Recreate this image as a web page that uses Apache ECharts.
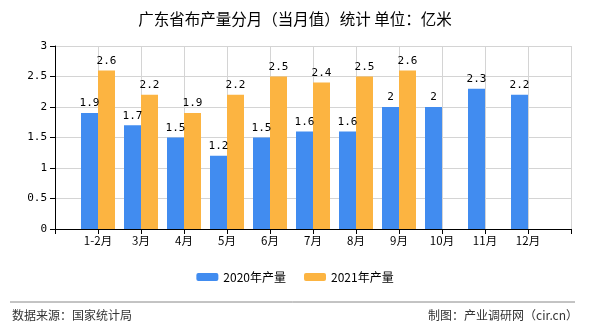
<!DOCTYPE html>
<html><head><meta charset="utf-8">
<script src="https://cdn.jsdelivr.net/npm/echarts@6/dist/echarts.min.js"></script>
<style>html,body{margin:0;padding:0;background:#fff}#c{width:590px;height:330px}</style>
</head><body><div id="c"></div>
<script>
var categories = ['1-2月','3月','4月','5月','6月','7月','8月','9月','10月','11月','12月'];
var values2020 = [1.9,1.7,1.5,1.2,1.5,1.6,1.6,2,2,2.3,2.2];
var values2021 = [2.6,2.2,1.9,2.2,2.5,2.4,2.5,2.6,null,null,null];
var yTicks = ['0','0.5','1','1.5','2','2.5','3'];
var seriesNames = ['2020年产量','2021年产量'];

var cats = [''].concat(categories).concat(['']);
function pad(a){ return [null].concat(a).concat([null]); }
var monoFont = '"DejaVu Sans Mono", monospace';
var chart = echarts.init(document.getElementById('c'));
var labelCfg = {show:true, position:'top', color:'#000', fontSize:11, fontFamily:monoFont, distance:4,
  formatter:function(p){return p.value==null?'':String(p.value);}};
chart.setOption({
  animation:false,
  title:{text:'广东省布产量分月（当月值）统计 单位：亿米', left:'center', top:6,
    textStyle:{fontSize:15.5, fontWeight:'normal', color:'#000', fontFamily:'"Noto Sans CJK SC"'}},
  legend:{bottom:42, left:'center', itemWidth:22, itemHeight:8, itemGap:18,
    textStyle:{fontSize:12, color:'#000', fontFamily:'"Noto Sans CJK SC"'}, data:seriesNames},
  grid:{left:55, right:19, top:46, bottom:101},
  xAxis:{type:'category', data:cats, boundaryGap:false,
    axisLine:{lineStyle:{color:'#000'}}, axisTick:{show:true, length:5, lineStyle:{color:'#000'}},
    axisLabel:{color:'#000', fontSize:11.5, fontFamily:'"Noto Sans CJK SC"', margin:6, interval:0},
    splitLine:{show:true, lineStyle:{color:'#d4d4d4'}}},
  yAxis:{type:'value', min:0, max:3, interval:0.5,
    axisLine:{show:true, lineStyle:{color:'#000'}}, axisTick:{show:true, length:5, lineStyle:{color:'#000'}},
    axisLabel:{color:'#000', fontSize:11, fontFamily:monoFont, margin:8,
      formatter:function(v){return yTicks[Math.round(v/0.5)];}},
    splitLine:{show:true, lineStyle:{color:'#d4d4d4'}}},
  series:[
    {name:seriesNames[0], type:'bar', data:pad(values2020), barWidth:17, barGap:'0%',
      itemStyle:{color:'#418CF0'}, label:labelCfg},
    {name:seriesNames[1], type:'bar', data:pad(values2021), barWidth:17, barGap:'0%',
      itemStyle:{color:'#FCB441'}, label:labelCfg}
  ],
  graphic:[
    {type:'line', shape:{x1:10,y1:302,x2:575,y2:302}, style:{stroke:'#888', lineWidth:1}},
    {type:'text', left:12, top:309, style:{text:'数据来源：国家统计局', fontSize:12, fill:'#333', fontFamily:'"Noto Sans CJK SC"'}},
    {type:'text', right:12, top:309, style:{text:'制图：产业调研网（cir.cn）', fontSize:12, fill:'#333', fontFamily:'"Noto Sans CJK SC"'}}
  ]
});
</script></body></html>
